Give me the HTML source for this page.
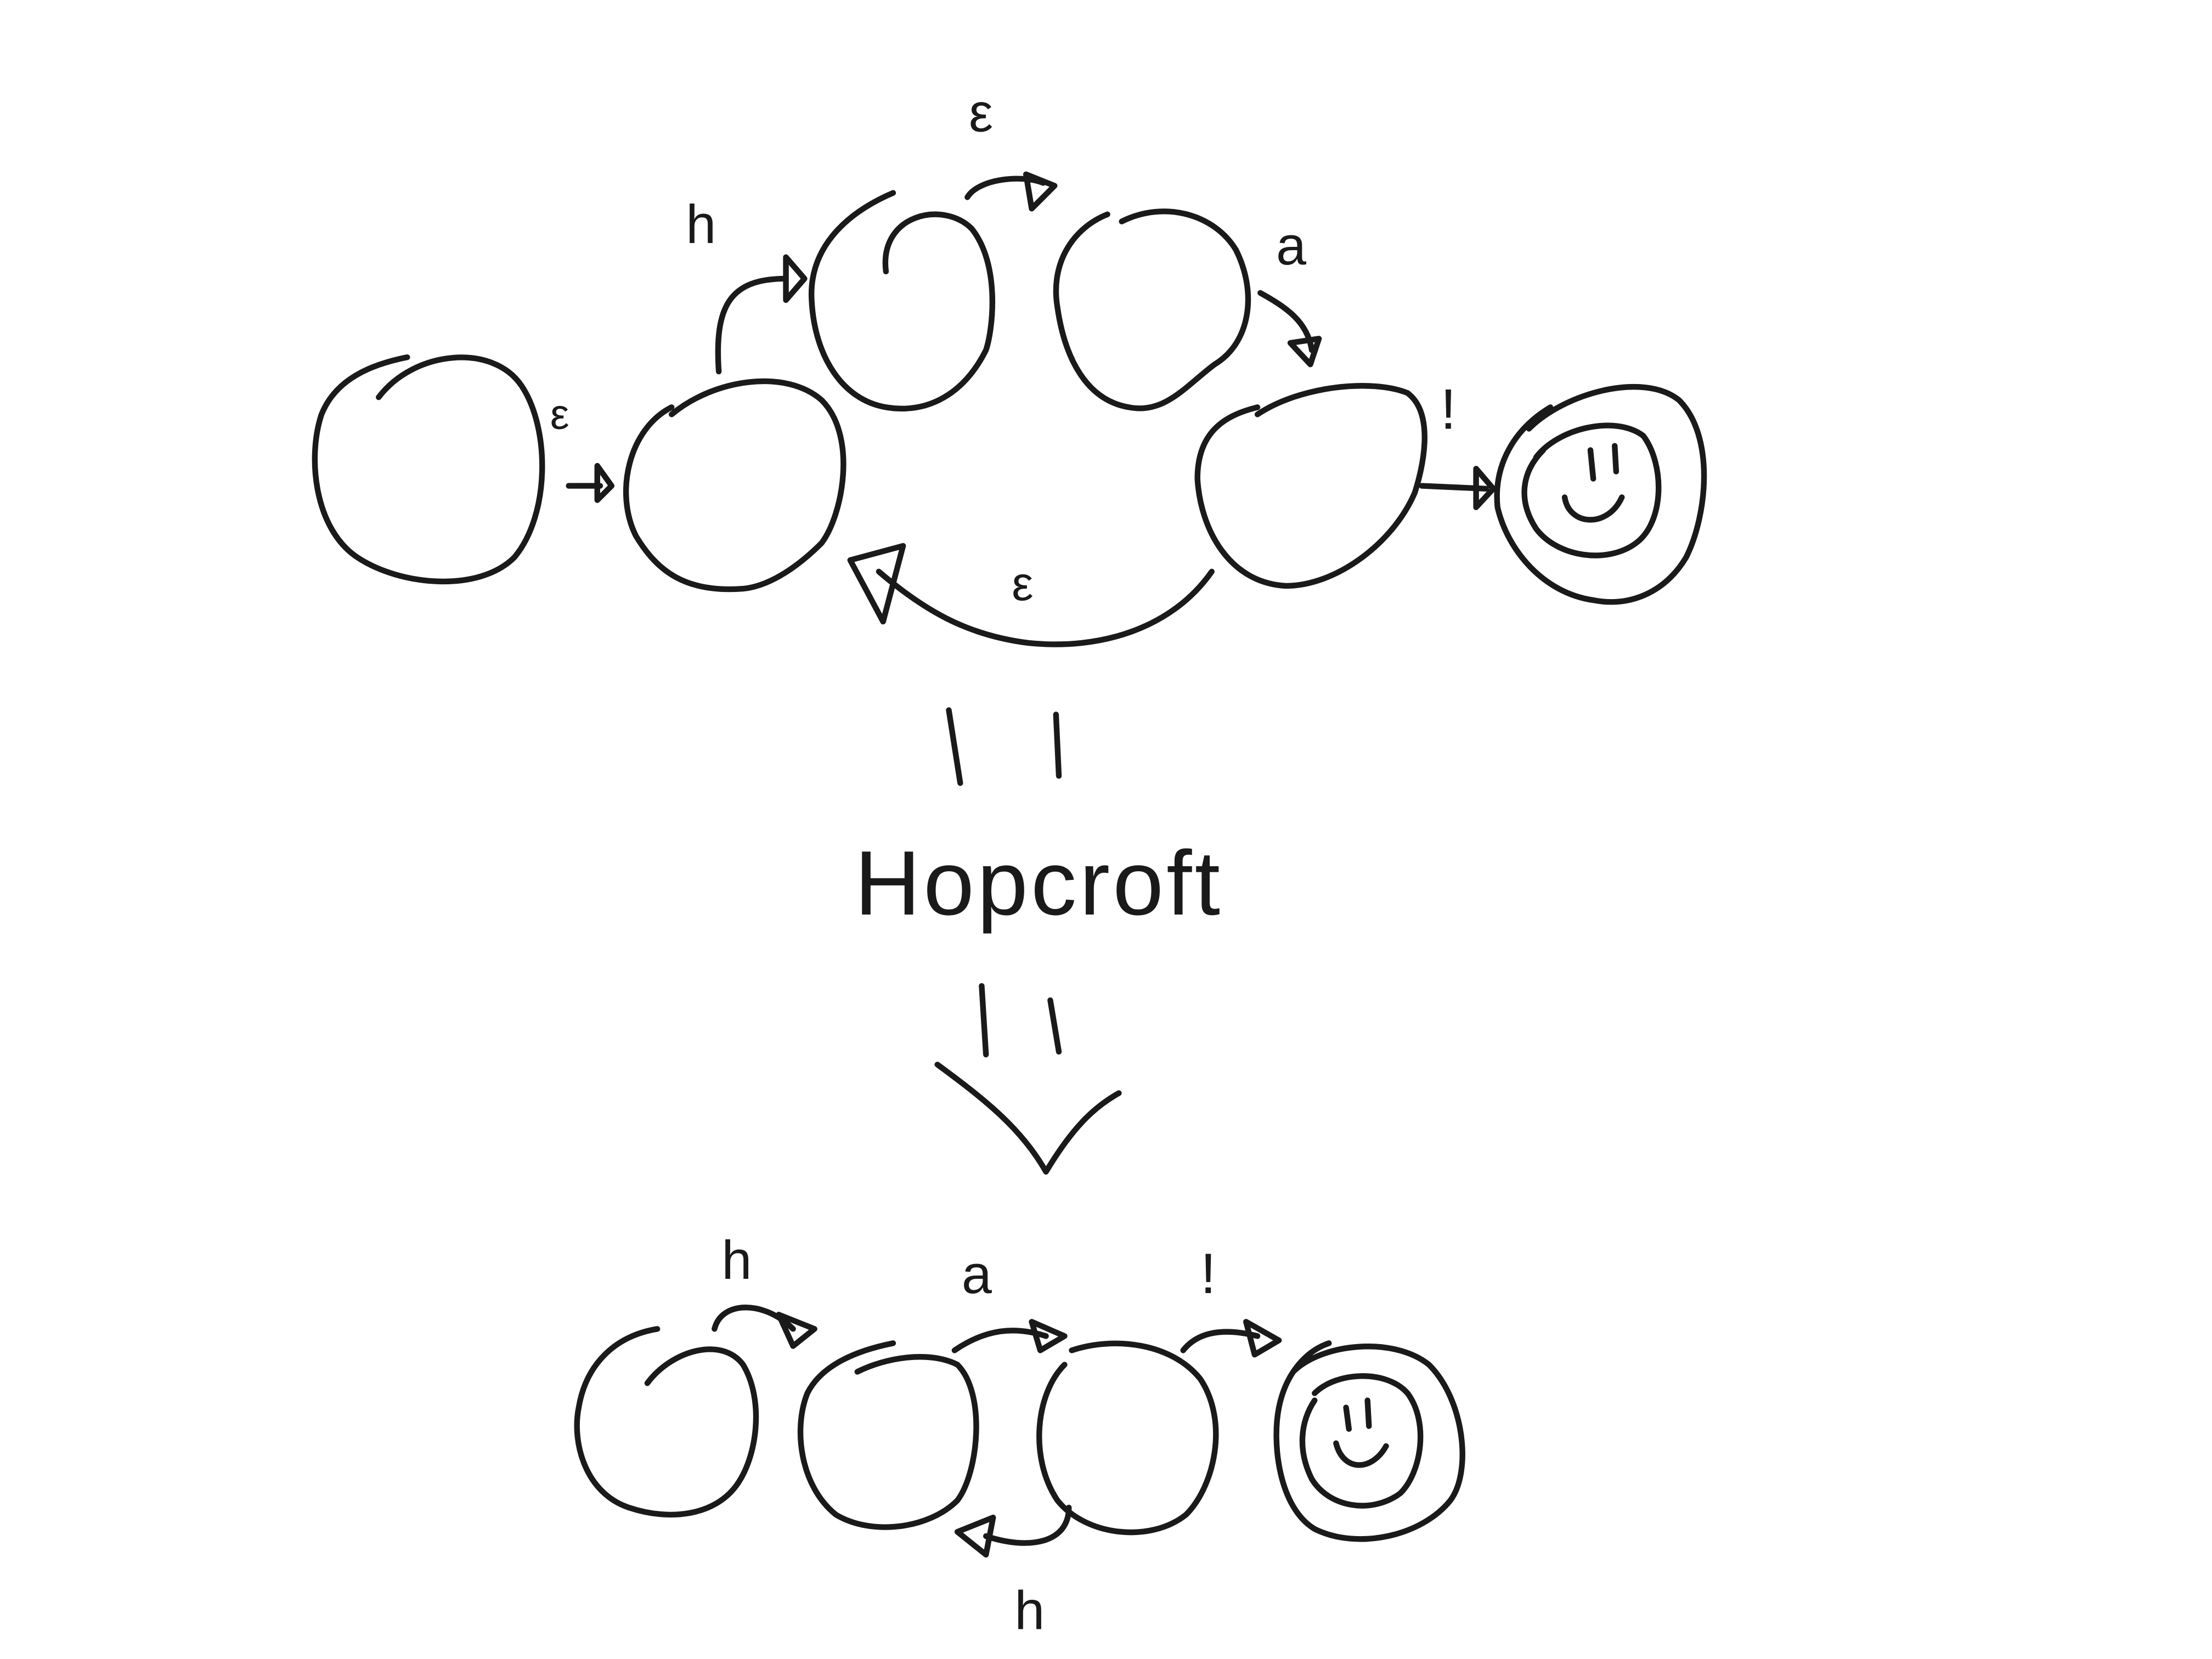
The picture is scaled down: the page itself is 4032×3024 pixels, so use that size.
<!DOCTYPE html>
<html><head><meta charset="utf-8"><style>
html,body{margin:0;padding:0;background:#fff}
svg{display:block}
text{font-family:"Liberation Sans",sans-serif;fill:#1a1a1a}
</style></head><body>
<svg width="4032" height="3024" viewBox="0 0 1548 1161" preserveAspectRatio="none" xmlns="http://www.w3.org/2000/svg">
<rect width="1548" height="1161" fill="#ffffff"/>
<g fill="none" stroke="#1a1a1a" stroke-width="4" stroke-linecap="round" stroke-linejoin="round">
<g>
<path d="M265,278 C290,245 345,240 365,270 C385,300 385,360 360,390 C335,415 280,410 250,390 C220,370 215,320 225,290 C235,265 260,255 285,250"/>
<path d="M470,290 C500,265 550,258 575,280 C600,305 590,360 575,380 C560,395 540,410 520,412 C480,415 460,400 445,375 C430,345 440,300 470,285"/>
<path d="M620,190 C615,150 660,140 680,160 C700,185 695,230 690,245 C675,275 650,290 620,285 C590,280 570,250 568,210 C566,175 590,150 625,135"/>
<path d="M785,155 C815,140 850,150 865,175 C880,205 875,240 850,255 C830,270 815,290 790,285 C760,280 745,250 740,215 C735,185 750,160 775,150"/>
<path d="M880,290 C910,270 960,265 985,275 C1005,290 995,330 990,345 C975,380 935,410 900,410 C860,408 840,370 838,335 C838,300 860,290 880,285"/>
<path d="M1070,300 C1095,275 1150,260 1175,280 C1200,305 1195,360 1180,390 C1165,415 1140,425 1115,420 C1080,415 1055,385 1048,355 C1045,325 1060,300 1085,285"/>
<path d="M1075,320 C1090,300 1130,290 1150,305 C1165,325 1165,365 1145,380 C1125,395 1090,390 1075,370 C1062,350 1065,330 1080,315"/>
<path d="M1113,315 L1115,335 M1130,312 L1131,330"/>
<path d="M1095,348 C1098,368 1125,370 1135,348"/>
<path d="M398,340 L420,340 M418,326 L428,340 L418,350 Z"/>
<path d="M503,260 C500,215 510,195 550,195 M550,180 L563,195 L550,210 Z"/>
<path d="M677,138 C685,125 715,122 730,128 M718,122 L738,130 L722,146 Z"/>
<path d="M882,205 C900,215 915,225 918,245 M903,240 L923,237 L917,255 Z"/>
<path d="M995,340 L1040,342 M1033,328 L1045,342 L1033,355 Z"/>
<path d="M848,400 C820,440 770,455 720,450 C680,445 650,430 615,400 M595,392 L632,382 L618,435 Z"/>
</g>
<g>
<path d="M664,497 L672,548 M739,500 L741,543 M687,690 L690,738 M735,700 L741,736 M656,745 C690,770 715,790 732,820 C750,790 765,775 783,765"/>
</g>
<g>
<path d="M453,968 C470,945 505,935 520,955 C535,980 530,1020 515,1040 C500,1060 470,1065 440,1055 C410,1045 400,1010 405,985 C410,955 430,935 460,930"/>
<path d="M600,960 C620,950 650,945 670,955 C690,975 685,1030 670,1050 C650,1070 610,1075 585,1060 C560,1040 555,1000 565,975 C575,955 600,945 625,940"/>
<path d="M750,945 C780,935 820,940 840,965 C860,995 850,1040 830,1060 C805,1080 760,1075 740,1050 C720,1020 725,975 745,955"/>
<path d="M905,960 C925,940 975,935 1000,955 C1025,980 1030,1030 1015,1050 C995,1075 950,1085 920,1070 C895,1055 890,1010 895,985 C900,960 915,945 930,940"/>
<path d="M920,975 C935,960 970,958 985,975 C1000,995 995,1030 980,1045 C960,1060 930,1055 918,1035 C908,1015 910,995 920,980"/>
<path d="M942,985 L944,1000 M957,980 L958,998 M935,1010 C940,1030 960,1030 970,1012"/>
<path d="M500,930 C505,910 535,910 555,930 M545,920 L570,930 L555,942 Z"/>
<path d="M668,945 C690,930 710,928 732,935 M722,925 L745,935 L728,945 Z"/>
<path d="M828,945 C840,930 860,930 880,935 M872,925 L895,938 L878,948 Z"/>
<path d="M748,1055 C748,1080 720,1085 690,1075 M695,1062 L670,1072 L690,1088 Z"/>
</g>
</g>
<text x="385" y="300" font-size="30">ε</text>
<text x="480" y="170" font-size="38">h</text>
<text x="678" y="92" font-size="38">ε</text>
<text x="893" y="185" font-size="38">a</text>
<text x="1008" y="300" font-size="40">!</text>
<text x="708" y="420" font-size="34">ε</text>
<text x="598" y="640" font-size="64" letter-spacing="2">Hopcroft</text>
<text x="505" y="895" font-size="38">h</text>
<text x="673" y="905" font-size="38">a</text>
<text x="840" y="905" font-size="40">!</text>
<text x="710" y="1140" font-size="38">h</text>
</svg>
</body></html>
